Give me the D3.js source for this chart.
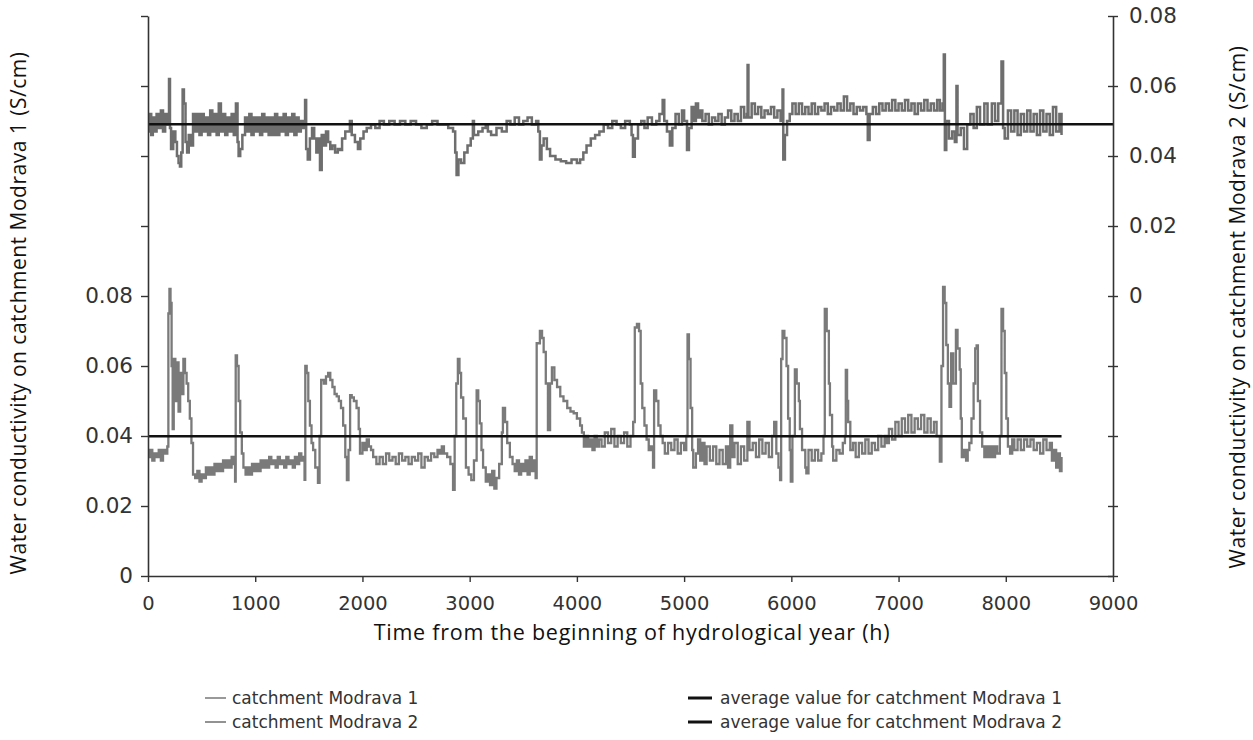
<!DOCTYPE html>
<html>
<head>
<meta charset="utf-8">
<script src="https://cdn.jsdelivr.net/npm/d3@7"></script>
<style>
  body { margin: 0; background: #fff; }
  svg { display: block; }
</style>
</head>
<body>
<svg id="chart" width="1253" height="740"></svg>
<script>
// conductivity, catchment Modrava 1 (left axis), [hour, S/cm]
const modrava1 = [
  [0,.034],[20,.036],[40,.033],[60,.035],[80,.034],[100,.036],[120,.033],[140,.036],[160,.035],[180,.037],
  [190,.075],[200,.082],[210,.078],[220,.060],[230,.042],[240,.062],[255,.050],[270,.061],[285,.047],[300,.058],
  [315,.052],[330,.062],[345,.058],[360,.055],[375,.050],[390,.045],[405,.038],[420,.029],[440,.028],[460,.030],
  [480,.027],[500,.029],[520,.028],[540,.031],[560,.029],[580,.031],[600,.029],[620,.032],[640,.030],[660,.032],
  [680,.030],[700,.033],[720,.031],[740,.033],[760,.031],[780,.034],[800,.032],[812,.027],[818,.063],[830,.060],
  [845,.050],[860,.041],[875,.035],[890,.031],[910,.029],[930,.031],[950,.029],[970,.032],[990,.030],[1010,.032],
  [1030,.030],[1050,.033],[1070,.031],[1090,.033],[1110,.031],[1130,.034],[1150,.032],[1170,.033],[1190,.031],[1210,.034],
  [1230,.032],[1250,.033],[1270,.031],[1290,.034],[1310,.032],[1330,.033],[1350,.031],[1370,.034],[1390,.032],[1410,.035],
  [1430,.033],[1450,.034],[1460,.0275],[1467,.060],[1480,.058],[1495,.050],[1510,.043],[1525,.038],[1540,.036],[1560,.031],
  [1585,.0266],[1600,.040],[1615,.056],[1640,.055],[1660,.057],[1680,.058],[1700,.056],[1720,.054],[1740,.052],[1760,.0513],
  [1780,.050],[1800,.048],[1820,.043],[1840,.034],[1855,.0274],[1870,.036],[1885,.0517],[1900,.051],[1920,.050],[1945,.048],
  [1965,.042],[1977,.035],[2000,.038],[2020,.036],[2040,.039],[2060,.037],[2080,.036],[2100,.034],[2130,.032],[2160,.034],
  [2190,.032],[2220,.035],[2250,.033],[2280,.034],[2310,.032],[2340,.035],[2370,.033],[2400,.034],[2430,.032],[2460,.034],
  [2490,.033],[2520,.035],[2550,.031],[2580,.034],[2610,.033],[2640,.035],[2670,.034],[2700,.036],[2720,.035],[2740,.037],
  [2760,.035],[2790,.034],[2820,.032],[2845,.0246],[2860,.040],[2875,.055],[2890,.062],[2905,.058],[2920,.051],[2940,.045],
  [2965,.031],[2990,.029],[3015,.0274],[3040,.033],[3065,.053],[3080,.050],[3095,.0436],[3110,.036],[3125,.031],[3150,.027],
  [3170,.029],[3190,.026],[3210,.030],[3230,.025],[3250,.028],[3275,.032],[3300,.041],[3310,.048],[3330,.044],[3350,.038],
  [3375,.034],[3400,.032],[3420,.030],[3440,.033],[3460,.029],[3480,.032],[3500,.030],[3520,.033],[3540,.029],[3560,.034],
  [3580,.030],[3600,.033],[3615,.028],[3625,.0665],[3655,.070],[3675,.068],[3690,.064],[3710,.055],[3730,.0417],[3750,.055],
  [3767,.0596],[3790,.056],[3815,.054],[3845,.0513],[3875,.050],[3910,.048],[3940,.047],[3970,.0465],[4000,.045],[4030,.043],
  [4047,.041],[4065,.037],[4085,.040],[4105,.037],[4125,.039],[4145,.036],[4165,.040],[4185,.037],[4205,.039],[4230,.037],
  [4260,.041],[4290,.038],[4320,.042],[4350,.037],[4380,.040],[4410,.038],[4440,.041],[4470,.037],[4500,.040],[4525,.044],
  [4540,.071],[4560,.072],[4580,.070],[4595,.055],[4610,.048],[4630,.043],[4650,.039],[4670,.036],[4690,.037],[4710,.031],
  [4720,.053],[4740,.050],[4760,.043],[4780,.040],[4800,.038],[4820,.035],[4850,.038],[4880,.036],[4910,.039],[4940,.035],
  [4970,.038],[5000,.036],[5020,.040],[5032,.069],[5045,.062],[5060,.048],[5075,.036],[5085,.031],[5110,.035],[5130,.039],
  [5150,.033],[5170,.038],[5190,.032],[5210,.037],[5240,.033],[5270,.037],[5300,.032],[5330,.036],[5360,.032],[5390,.037],
  [5410,.031],[5430,.043],[5450,.034],[5470,.038],[5500,.032],[5530,.037],[5560,.033],[5590,.044],[5610,.036],[5640,.038],
  [5670,.034],[5700,.039],[5730,.035],[5760,.038],[5790,.034],[5820,.040],[5840,.044],[5860,.035],[5880,.031],[5895,.0274],
  [5905,.062],[5918,.070],[5935,.068],[5955,.060],[5970,.045],[5985,.036],[5995,.027],[6010,.040],[6033,.059],[6050,.055],
  [6070,.050],[6080,.042],[6100,.036],[6130,.031],[6140,.0293],[6160,.036],[6190,.033],[6220,.036],[6250,.033],[6280,.035],
  [6300,.040],[6312,.0763],[6330,.070],[6350,.055],[6360,.046],[6380,.037],[6390,.033],[6420,.036],[6450,.035],[6480,.038],
  [6500,.040],[6508,.0589],[6520,.050],[6530,.044],[6550,.036],[6575,.038],[6600,.034],[6630,.038],[6660,.035],[6690,.039],
  [6720,.035],[6750,.038],[6780,.036],[6810,.040],[6840,.037],[6870,.040],[6890,.038],[6910,.042],[6940,.039],[6970,.044],
  [7000,.040],[7030,.045],[7060,.041],[7090,.046],[7120,.041],[7150,.045],[7180,.042],[7210,.046],[7240,.041],[7270,.045],
  [7300,.041],[7330,.044],[7355,.040],[7385,.0327],[7400,.060],[7415,.0826],[7430,.078],[7445,.066],[7460,.055],[7475,.0483],
  [7490,.0636],[7510,.055],[7535,.0703],[7550,.065],[7570,.059],[7580,.045],[7590,.034],[7610,.036],[7630,.033],[7645,.036],
  [7660,.038],[7680,.045],[7700,.055],[7715,.065],[7728,.0659],[7740,.050],[7760,.041],[7780,.037],[7800,.034],[7820,.037],
  [7840,.034],[7860,.037],[7880,.034],[7900,.037],[7920,.035],[7945,.040],[7960,.0763],[7975,.070],[7990,.058],[8005,.045],
  [8020,.037],[8040,.035],[8060,.039],[8080,.036],[8110,.039],[8140,.036],[8170,.039],[8200,.037],[8230,.039],[8260,.036],
  [8290,.038],[8320,.035],[8350,.039],[8380,.036],[8410,.038],[8430,.033],[8450,.036],[8470,.031],[8490,.035],[8505,.030],
  [8520,.034]
];

// conductivity, catchment Modrava 2 (right axis), [hour, S/cm]
const modrava2 = [
  [0,.047],[15,.052],[30,.046],[45,.051],[60,.047],[80,.052],[100,.048],[120,.053],[140,.047],[160,.052],
  [180,.049],[196,.062],[205,.048],[215,.042],[235,.047],[255,.044],[270,.040],[285,.038],[298,.037],[310,.041],
  [323,.059],[335,.055],[350,.044],[365,.041],[380,.046],[400,.043],[420,.052],[440,.047],[460,.052],[480,.046],
  [500,.052],[520,.047],[540,.051],[560,.046],[580,.053],[600,.047],[620,.052],[640,.046],[660,.055],[680,.047],
  [700,.052],[720,.046],[740,.051],[760,.047],[780,.052],[800,.046],[820,.055],[835,.044],[845,.040],[860,.042],
  [880,.046],[905,.051],[925,.047],[945,.052],[965,.046],[985,.051],[1005,.047],[1025,.051],[1045,.046],[1065,.052],
  [1085,.047],[1105,.051],[1125,.046],[1145,.051],[1165,.046],[1185,.052],[1205,.046],[1225,.051],[1245,.047],[1265,.052],
  [1285,.046],[1305,.051],[1325,.047],[1345,.052],[1365,.046],[1385,.051],[1405,.047],[1425,.050],[1445,.048],[1465,.056],
  [1475,.042],[1490,.039],[1510,.045],[1530,.048],[1550,.045],[1570,.041],[1590,.045],[1604,.036],[1620,.046],[1640,.043],
  [1660,.047],[1680,.044],[1700,.042],[1720,.043],[1745,.041],[1770,.042],[1790,.0417],[1810,.045],[1840,.047],[1883,.050],
  [1900,.046],[1930,.044],[1958,.042],[1980,.045],[2010,.047],[2040,.048],[2080,.049],[2120,.048],[2160,.050],[2200,.049],
  [2250,.050],[2300,.049],[2350,.050],[2400,.049],[2450,.050],[2500,.049],[2550,.048],[2600,.049],[2650,.050],[2700,.049],
  [2750,.049],[2800,.048],[2845,.047],[2865,.041],[2878,.0346],[2895,.039],[2920,.038],[2950,.041],[2980,.043],[3010,.045],
  [3030,.050],[3040,.046],[3080,.047],[3120,.048],[3150,.049],[3170,.047],[3200,.046],[3250,.048],[3300,.047],[3345,.050],
  [3380,.049],[3420,.051],[3460,.049],[3500,.050],[3540,.051],[3580,.049],[3620,.050],[3640,.047],[3655,.039],[3670,.043],
  [3690,.045],[3720,.042],[3750,.040],[3800,.039],[3850,.0385],[3900,.038],[3950,.039],[4000,.038],[4030,.039],[4060,.041],
  [4090,.043],[4130,.045],[4170,.046],[4210,.047],[4250,.049],[4290,.048],[4330,.050],[4370,.049],[4410,.048],[4450,.050],
  [4494,.049],[4510,.046],[4523,.0398],[4540,.045],[4570,.049],[4600,.050],[4630,.048],[4660,.051],[4700,.049],[4740,.050],
  [4770,.052],[4800,.056],[4815,.050],[4840,.047],[4867,.043],[4890,.048],[4920,.052],[4950,.049],[4980,.053],[5000,.050],
  [5027,.0417],[5045,.048],[5070,.054],[5090,.050],[5110,.055],[5130,.051],[5150,.053],[5170,.050],[5200,.052],[5230,.049],
  [5260,.051],[5290,.050],[5320,.052],[5350,.049],[5380,.051],[5410,.053],[5440,.050],[5470,.052],[5500,.050],[5530,.054],
  [5560,.051],[5585,.052],[5592,.066],[5600,.051],[5630,.055],[5660,.052],[5690,.054],[5720,.051],[5750,.053],[5780,.052],
  [5810,.054],[5840,.051],[5870,.053],[5900,.050],[5918,.059],[5925,.039],[5940,.046],[5960,.050],[5985,.052],[6010,.055],
  [6040,.052],[6070,.055],[6100,.052],[6130,.054],[6160,.052],[6190,.055],[6220,.052],[6250,.054],[6280,.053],[6310,.055],
  [6340,.052],[6370,.054],[6400,.053],[6430,.055],[6460,.053],[6490,.057],[6520,.053],[6550,.055],[6580,.052],[6610,.054],
  [6640,.053],[6670,.054],[6700,.052],[6713,.0446],[6730,.052],[6760,.054],[6790,.052],[6820,.055],[6850,.053],[6880,.055],
  [6910,.053],[6940,.056],[6970,.053],[7000,.055],[7030,.053],[7060,.056],[7090,.053],[7120,.055],[7150,.052],[7180,.055],
  [7210,.053],[7240,.056],[7270,.053],[7300,.055],[7330,.053],[7360,.056],[7385,.053],[7410,.055],[7422,.069],[7432,.0417],
  [7445,.050],[7470,.045],[7500,.047],[7525,.044],[7540,.060],[7550,.046],[7580,.048],[7610,.042],[7640,.049],[7670,.052],
  [7700,.048],[7730,.054],[7760,.049],[7800,.055],[7830,.049],[7870,.055],[7900,.050],[7930,.055],[7960,.067],[7975,.048],
  [7990,.045],[8020,.053],[8050,.047],[8080,.053],[8110,.046],[8140,.052],[8170,.047],[8200,.053],[8230,.047],[8260,.052],
  [8290,.046],[8320,.053],[8350,.047],[8380,.052],[8410,.046],[8440,.054],[8470,.047],[8500,.052],[8520,.046]
];

// average values, [from hour, to hour, S/cm]
const average1 = [0, 8520, 0.0399];
const average2 = [0, 9000, 0.0491];

const xTicks = [0, 1000, 2000, 3000, 4000, 5000, 6000, 7000, 8000, 9000];
const leftTicks = [0, .02, .04, .06, .08, .10, .12, .14, .16];
const rightTicks = [-.08, -.06, -.04, -.02, 0, .02, .04, .06, .08];

const legendNames = ["catchment Modrava 1", "catchment Modrava 2",
  "average value for catchment Modrava 1", "average value for catchment Modrava 2"];

const svg = d3.select("#chart");
const margin = {left: 148, right: 1113, top: 16, bottom: 576};

let x = d3.scaleLinear().domain([0, 9000]).range([margin.left, margin.right]);
let y1 = d3.scaleLinear().domain([0, 0.16]).range([margin.bottom, margin.top]);
let y2 = d3.scaleLinear().domain([-0.08, 0.08]).range([margin.bottom, margin.top]);

let fmt = d => (d === 0 ? "0" : d.toFixed(2));
let tickFont = "'DejaVu Sans', Verdana, sans-serif";

// series
let line = (ys) => d3.line()
  .x(d => x(d[0]))
  .y(d => ys(d[1]))
  .curve(d3.curveStepAfter);

svg.append("path")
  .datum(modrava2)
  .attr("d", line(y2))
  .attr("fill", "none")
  .attr("stroke", "#6e6e6e")
  .attr("stroke-width", 2.5);

svg.append("path")
  .datum(modrava1)
  .attr("d", line(y1))
  .attr("fill", "none")
  .attr("stroke", "#7a7a7a")
  .attr("stroke-width", 2.3);

// average lines
svg.append("line")
  .attr("x1", x(average1[0])).attr("x2", x(average1[1]))
  .attr("y1", y1(average1[2])).attr("y2", y1(average1[2]))
  .attr("stroke", "#111").attr("stroke-width", 2.5);

svg.append("line")
  .attr("x1", x(average2[0])).attr("x2", x(average2[1]))
  .attr("y1", y2(average2[2])).attr("y2", y2(average2[2]))
  .attr("stroke", "#111").attr("stroke-width", 2.5);

// axes
let xAxis = svg.append("g")
  .attr("transform", "translate(0," + margin.bottom + ")")
  .call(d3.axisBottom(x).tickValues(xTicks).tickSize(6).tickSizeOuter(0).tickPadding(14)
    .tickFormat(d3.format("d")));

let leftAxis = svg.append("g")
  .attr("transform", "translate(" + margin.left + ",0)")
  .call(d3.axisLeft(y1).tickValues(leftTicks).tickSize(7).tickSizeOuter(0).tickPadding(8)
    .tickFormat(d => (d <= 0.081 ? fmt(d) : "")));

let rightAxis = svg.append("g")
  .attr("transform", "translate(" + margin.right + ",0)")
  .call(d3.axisRight(y2).tickValues(rightTicks).tickSize(5).tickSizeOuter(0).tickPadding(11)
    .tickFormat(d => (d >= -0.001 ? fmt(Math.abs(d) < 1e-9 ? 0 : d) : "")));

rightAxis.selectAll(".tick line").attr("x1", -5);

[xAxis, leftAxis, rightAxis].forEach(g => {
  g.selectAll(".domain").attr("stroke", "#333").attr("stroke-width", 1.6);
  g.selectAll(".tick line").attr("stroke", "#333").attr("stroke-width", 1.4);
  g.selectAll("text")
    .attr("fill", "#333")
    .style("font-family", tickFont);
});
xAxis.selectAll("text").style("font-size", "19.5px");
leftAxis.selectAll("text").style("font-size", "21.5px");
rightAxis.selectAll("text").style("font-size", "21.5px");

// axis titles
let titleFont = "'Open Sans', 'Noto Sans', sans-serif";

svg.append("text")
  .attr("transform", "translate(26,313) rotate(-90)")
  .attr("text-anchor", "middle")
  .style("font-family", titleFont)
  .style("font-size", "21px")
  .style("letter-spacing", "0.5px")
  .attr("fill", "#111")
  .text("Water conductivity on catchment Modrava 1 (S/cm)");

svg.append("text")
  .attr("transform", "translate(1245,307) rotate(-90)")
  .attr("text-anchor", "middle")
  .style("font-family", titleFont)
  .style("font-size", "21px")
  .style("letter-spacing", "0.5px")
  .attr("fill", "#111")
  .text("Water conductivity on catchment Modrava 2 (S/cm)");

svg.append("text")
  .attr("x", 632)
  .attr("y", 640)
  .attr("text-anchor", "middle")
  .style("font-family", titleFont)
  .style("font-size", "21.5px")
  .style("letter-spacing", "0.75px")
  .attr("fill", "#111")
  .text("Time from the beginning of hydrological year (h)");

// legend
let legendPos = [[205, 698], [205, 722], [688, 698], [688, 722]];
let legendColor = ["#808080", "#777", "#111", "#111"];
let legendWidth = [1.6, 1.6, 3, 3];

let lg = svg.append("g").selectAll("g")
  .data(legendNames)
  .enter().append("g")
  .attr("transform", (d, i) => "translate(" + legendPos[i][0] + "," + legendPos[i][1] + ")");

lg.append("line")
  .attr("x1", 0).attr("x2", (d, i) => (i < 2 ? 21 : 24))
  .attr("stroke", (d, i) => legendColor[i])
  .attr("stroke-width", (d, i) => legendWidth[i]);

lg.append("text")
  .attr("x", (d, i) => (i < 2 ? 27 : 32))
  .attr("dy", "0.35em")
  .style("font-family", tickFont)
  .style("font-size", "17px")
  .attr("fill", "#333")
  .text(d => d);
</script>
</body>
</html>
